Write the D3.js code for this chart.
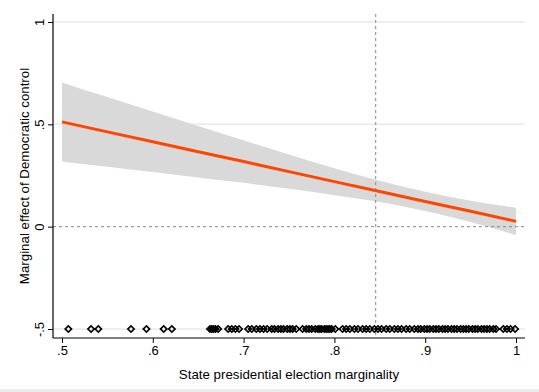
<!DOCTYPE html>
<html><head><meta charset="utf-8">
<script src="https://cdn.jsdelivr.net/npm/d3@7"></script>
<style>body{margin:0;background:#fff}svg{display:block}text{font-family:"Liberation Sans",Arial,sans-serif}</style>
</head><body><svg id="c" width="539" height="392"></svg>
<script>
const xTicks = [0.5, 0.6, 0.7, 0.8, 0.9, 1];
const xTickLabels = [".5", ".6", ".7", ".8", ".9", "1"];
const yTicks = [-0.5, 0, 0.5, 1];
const yTickLabels = ["-.5", "0", ".5", "1"];
const gridX = [0.5, 0.55, 0.6, 0.65, 0.7, 0.75, 0.8, 0.85, 0.9, 0.95, 1.0];
const effect = [0.512, 0.463, 0.415, 0.366, 0.318, 0.269, 0.220, 0.172, 0.123, 0.075, 0.026];
const upper = [0.705, 0.633, 0.563, 0.492, 0.422, 0.353, 0.286, 0.224, 0.170, 0.127, 0.093];
const lower = [0.319, 0.293, 0.267, 0.240, 0.214, 0.185, 0.154, 0.120, 0.076, 0.023, -0.041];
const meanMarginality = 0.8455;
const rugY = -0.5;
const rug = [0.507, 0.532, 0.540, 0.576, 0.593, 0.612, 0.621,
  0.663, 0.665, 0.667, 0.669, 0.672, 0.683, 0.687, 0.691, 0.695,
  0.705, 0.709, 0.714, 0.718, 0.722, 0.726,
  0.731, 0.734, 0.738, 0.741, 0.744, 0.748, 0.751, 0.754, 0.758,
  0.765, 0.769, 0.772, 0.775, 0.779, 0.782, 0.784, 0.786, 0.789, 0.791, 0.793, 0.795, 0.797, 0.801,
  0.809, 0.813, 0.817, 0.822, 0.826, 0.831, 0.835, 0.839,
  0.844, 0.848, 0.852, 0.857, 0.861, 0.866, 0.870, 0.874, 0.879, 0.883, 0.888,
  0.892, 0.895, 0.899, 0.902, 0.905, 0.909, 0.912, 0.915, 0.919, 0.922, 0.925, 0.929, 0.932, 0.935,
  0.939, 0.942, 0.945, 0.948, 0.952, 0.955, 0.958, 0.962, 0.965, 0.968, 0.971, 0.975, 0.978,
  0.986, 0.990, 0.994, 0.999];
const xTitle = "State presidential election marginality";
const yTitle = "Marginal effect of Democratic control";

const svg = d3.select("#c");
const x = d3.scaleLinear().domain([0.5, 1]).range([62, 516]);
const y = d3.scaleLinear().domain([-0.5, 1]).range([329, 22]);
const pLeft = 53, pRight = 525, pTop = 14, pBottom = 338;

// faint frame strip at bottom of image
svg.append("rect").attr("x", 0).attr("y", 389).attr("width", 539).attr("height", 3).attr("fill", "#ececec");

// gridlines
svg.append("g").selectAll("line").data(yTicks.filter(d => d !== 0)).join("line")
  .attr("x1", pLeft).attr("x2", pRight).attr("y1", d => y(d)).attr("y2", d => y(d))
  .attr("stroke", "#eaeaea").attr("stroke-width", 1.5);

// band
const band = gridX.map((d, i) => ({x: d, lo: lower[i], hi: upper[i]}));
svg.append("path").datum(band)
  .attr("d", d3.area().x(d => x(d.x)).y0(d => y(d.lo)).y1(d => y(d.hi)).curve(d3.curveMonotoneX))
  .attr("fill", "#d9d9d9");

// reference lines
svg.append("line").attr("x1", pLeft).attr("x2", pRight).attr("y1", y(0)).attr("y2", y(0))
  .attr("stroke", "#888").attr("stroke-width", 1).attr("stroke-dasharray", "3,3");
svg.append("line").attr("x1", x(meanMarginality)).attr("x2", x(meanMarginality)).attr("y1", pTop).attr("y2", pBottom)
  .attr("stroke", "#888").attr("stroke-width", 1).attr("stroke-dasharray", "3,3");

// line
svg.append("path").datum(gridX.map((d, i) => ({x: d, v: effect[i]})))
  .attr("d", d3.line().x(d => x(d.x)).y(d => y(d.v)))
  .attr("fill", "none").attr("stroke", "#ff4500").attr("stroke-width", 3);

// rug diamonds
const sym = d3.symbol().type(d3.symbolSquare).size(20);
svg.append("g").selectAll("path").data(rug).join("path")
  .attr("d", sym)
  .attr("transform", d => `translate(${x(d)},${y(rugY)}) rotate(45)`)
  .attr("fill", "none").attr("stroke", "#000").attr("stroke-width", 1.7);

// axes
const ax = svg.append("g").attr("transform", `translate(0,${pBottom})`)
  .call(d3.axisBottom(x).tickValues(xTicks).tickFormat((d, i) => xTickLabels[i]).tickSize(5).tickSizeOuter(0));
ax.select(".domain").remove();
ax.append("line").attr("x1", pLeft).attr("x2", pRight).attr("stroke", "#000").attr("stroke-width", 1.2);
ax.selectAll(".tick line").attr("stroke", "#000");
ax.selectAll(".tick text").attr("font-size", 13).attr("fill", "#000").attr("dy", "0.9em").attr("y", 5);

const ay = svg.append("g").attr("transform", `translate(${pLeft},0)`)
  .call(d3.axisLeft(y).tickValues(yTicks).tickFormat((d, i) => yTickLabels[i]).tickSize(5).tickSizeOuter(0));
ay.select(".domain").remove();
ay.append("line").attr("y1", pTop).attr("y2", pBottom).attr("stroke", "#000").attr("stroke-width", 1.2);
ay.selectAll(".tick line").attr("stroke", "#000");
ay.selectAll(".tick text").attr("font-size", 13).attr("fill", "#000")
  .attr("text-anchor", "middle").attr("x", 0).attr("y", 0).attr("dy", "0.35em")
  .attr("transform", "translate(-14,0) rotate(-90)");

// titles
svg.append("text").attr("x", 289).attr("y", 379).attr("text-anchor", "middle")
  .attr("font-size", 13.3).text(xTitle);
svg.append("text").attr("transform", `translate(29,176) rotate(-90)`).attr("text-anchor", "middle")
  .attr("font-size", 13.3).text(yTitle);
</script></body></html>
